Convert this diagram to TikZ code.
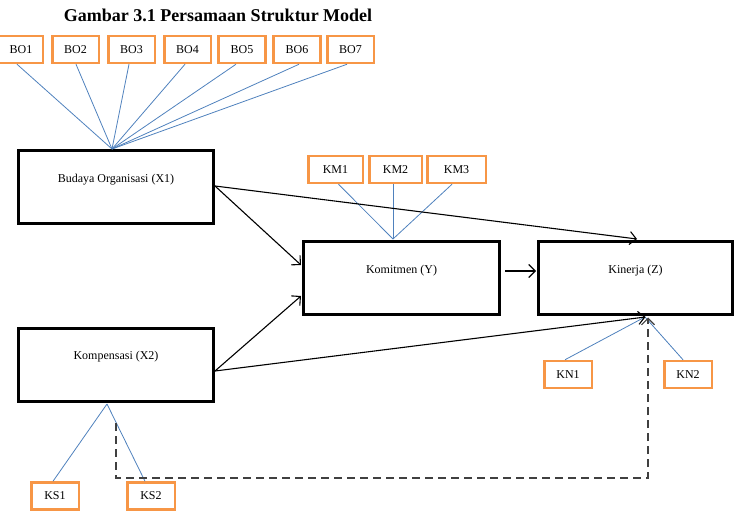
\documentclass[tikz,border=0pt]{standalone}
\usepackage{fontspec}
\setmainfont{Liberation Serif}
\usetikzlibrary{arrows.meta,calc}
\definecolor{boxorange}{HTML}{F79646}
\definecolor{lineblue}{HTML}{4F81BD}
\definecolor{dashgray}{HTML}{404040}
\tikzset{
  obox/.style={draw=boxorange, line width=2.5pt, minimum height=27pt, inner sep=0pt, font=\fontsize{12}{14}\selectfont},
  bbox/.style={draw=black, line width=3pt, minimum width=195pt, minimum height=73pt, inner sep=0pt},
  btext/.style={font=\fontsize{12}{14}\selectfont},
  ind/.style={draw=lineblue, line width=0.8pt},
  arr/.style={draw=black, line width=1.1pt, -{Straight Barb[length=6.5pt,width=13pt,line width=1.1pt]}},
  darr/.style={draw=dashgray, line width=1.3pt, dash pattern=on 8pt off 5pt, -{Straight Barb[length=6.5pt,width=13pt,line width=1.1pt]}}
}
\begin{document}
\begin{tikzpicture}[x=1pt,y=-1pt]
\useasboundingbox (0,0) rectangle (734,529);
\node[font=\fontsize{18}{21}\selectfont\bfseries] (title) at (218,15) {Gambar 3.1 Persamaan Struktur Model};
% BO indicators
\node[obox, minimum width=44pt] (BO1) at (21,49.5) {BO1};
\node[obox, minimum width=46.5pt] (BO2) at (75.5,49.5) {BO2};
\node[obox, minimum width=46.5pt] (BO3) at (131.5,49.5) {BO3};
\node[obox, minimum width=46.5pt] (BO4) at (187.5,49.5) {BO4};
\node[obox, minimum width=47pt] (BO5) at (242,49.5) {BO5};
\node[obox, minimum width=47pt] (BO6) at (297,49.5) {BO6};
\node[obox, minimum width=46.5pt] (BO7) at (350.5,49.5) {BO7};
% latent boxes
\node[bbox, label={[btext, yshift=7pt]center:Budaya Organisasi (X1)}] (X1) at (116,187) {};
\node[bbox, label={[btext, yshift=8pt]center:Kompensasi (X2)}] (X2) at (116,365) {};
\node[bbox, minimum width=196pt, label={[btext, yshift=7pt]center:Komitmen (Y)}] (Y) at (401.5,278) {};
\node[bbox, minimum width=194pt, label={[btext, yshift=7pt]center:Kinerja (Z)}] (Z) at (635.5,278) {};
% KM indicators
\node[obox, minimum width=54.5pt] (KM1) at (335.5,169.5) {KM1};
\node[obox, minimum width=52.5pt] (KM2) at (395.5,169.5) {KM2};
\node[obox, minimum width=58.5pt] (KM3) at (456.5,169.5) {KM3};
% KN indicators
\node[obox, minimum width=47.5pt] (KN1) at (568,374.5) {KN1};
\node[obox, minimum width=47.5pt] (KN2) at (688,374.5) {KN2};
% KS indicators
\node[obox, minimum width=47.5pt] (KS1) at (55,496) {KS1};
\node[obox, minimum width=47.5pt] (KS2) at (151,496) {KS2};
% convergence points
\coordinate (bo) at (112,149);
\coordinate (ky) at (393,239);
\coordinate (kz) at (645,317);
\coordinate (ks) at (107,404);
% indicator lines
\foreach \i/\dx in {1/-4,2/0.5,3/-2.5,4/-2.5,5/-6,6/2,7/-3.5}
  \draw[ind] ([xshift=\dx pt]BO\i.south) -- (bo);
\draw[ind] ([xshift=3pt]KM1.south) -- (ky);
\draw[ind] ([xshift=-2.5pt]KM2.south) -- (ky);
\draw[ind] ([xshift=-4.5pt]KM3.south) -- (ky);
\draw[ind] ([xshift=-3pt]KN1.north) -- (kz);
\draw[ind] ([xshift=-5pt]KN2.north) -- (kz);
\draw[ind] (ks) -- ([xshift=-2pt]KS1.north);
\draw[ind] (ks) -- ([xshift=-6pt]KS2.north);
% structural arrows
\draw[arr] ([yshift=1pt]X1.east) -- ([xshift=-1pt,yshift=13pt]Y.west);
\draw[arr] ([yshift=1pt]X1.east) -- ([xshift=1.5pt,yshift=1pt]Z.north);
\draw[arr] ([yshift=-6pt]X2.east) -- ([xshift=-1pt,yshift=-18pt]Y.west);
\draw[arr] ([yshift=-6pt]X2.east) -- ([xshift=10pt,yshift=-1pt]Z.south);
\draw[arr] ([xshift=4pt,yshift=7pt]Y.east) -- ([xshift=-1pt,yshift=7pt]Z.west);
% dashed path
\coordinate (ds) at ([yshift=-20pt]X2.south);
\draw[darr] (ds) -- ++(0,55) -| ([xshift=12.5pt,yshift=-1.5pt]Z.south);
\end{tikzpicture}
\end{document}
